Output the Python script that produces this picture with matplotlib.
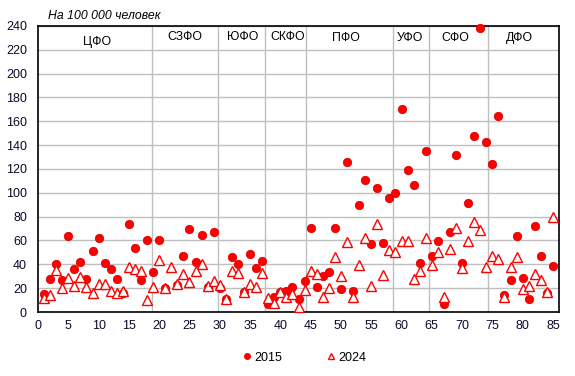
import numpy as np
import matplotlib
matplotlib.use("Agg")
import matplotlib.pyplot as plt
from matplotlib.lines import Line2D
from matplotlib import transforms

plt.rcParams['font.family'] = ['Liberation Sans', 'DejaVu Sans']

# номера регионов 1..85
regions = np.arange(1, 86)

# значения на 100 000 человек, 2015 г. (у региона 22 нет точки)
y2015 = [14.8, 28, 40.5, 27, 63.8, 36.4, 42.2, 28, 51.5, 62.1,
         41.1, 36.1, 28, 16.2, 74.1, 53.7, 27.1, 60.7, 33.6, 60.7,
         20.5, np.nan, 22.5, 47, 69.8, 42.2, 64.6, 20.7, 66.8, 20.3,
         10.9, 46.4, 40.3, 16.5, 48.3, 37, 43.1, 7, 12.8, 17,
         17.5, 21.2, 11.2, 26.3, 70.8, 21.2, 30.4, 33.8, 70.8, 19.6,
         126, 18, 90, 110.5, 57.1, 104, 58.2, 95.7, 100.1, 170,
         119.2, 106.8, 41.4, 135.5, 47, 59.8, 7, 67.4, 131.5, 41.4,
         91.7, 147.5, 238.3, 143, 124.3, 164.5, 14.3, 27.1, 63.8, 28.8,
         11.2, 72.2, 47, 15.7, 38.9]

# значения 2024 г.
y2024 = [12, 14.5, 35.2, 20.1, 28.8, 22.1, 29.6, 20.7, 15.7, 23.5,
         23.5, 17.6, 15.7, 17.4, 38, 36.3, 34.7, 10.1, 21.2, 43.9,
         20.4, 37.5, 23.5, 31.6, 25.5, 34.1, 40, 22.1, 26, 22.9,
         10.9, 34.7, 32.5, 17, 23.8, 21, 32.5, 11.5, 7.8, 16.7,
         12.8, 15.2, 4.5, 18.2, 34.2, 31.6, 12.5, 19.9, 46.4, 29.9,
         59, 12.8, 39.8, 61.8, 21.5, 73.6, 31, 52, 50.1, 59.6,
         59.6, 27.4, 34.7, 61.8, 39.4, 50.6, 12.8, 53.1, 70.8, 36.6,
         59.8, 75.8, 68.8, 38, 47, 44.7, 12.8, 37.5, 46.4, 19.3,
         22.1, 31.9, 26.9, 16.5, 79.5]

# федеральные округа: границы и подписи
district_names = ["ЦФО", "СЗФО", "ЮФО", "СКФО", "ПФО", "УФО", "СФО", "ДФО"]
district_label_x = [9.7, 24.2, 33.75, 41.2, 50.9, 61.4, 68.8, 79.5]
district_label_y = [0.945, 0.96, 0.962, 0.962, 0.958, 0.958, 0.958, 0.958]
district_bounds = [18.84, 29.71, 37.45, 44.2, 58.59, 64.46, 74.24]

fig = plt.figure(figsize=(5.75, 3.76), dpi=100)
ax = fig.add_axes([0.0661, 0.1702, 0.9061, 0.7607])

grid_c = '#BFBFBF'
ax.set_xlim(0, 86)
ax.set_ylim(0, 240)
ax.set_xticks(range(0, 86, 5))
ax.set_yticks(range(0, 241, 20))
ax.yaxis.grid(True, color=grid_c, lw=1.0)
ax.set_axisbelow(True)
for b in district_bounds:
    ax.axvline(b, color=grid_c, lw=1.0, zorder=0.5)

ax.tick_params(length=0, labelsize=9, colors='#0a0a2a')
ax.tick_params(axis='x', pad=6)
ax.tick_params(axis='y', pad=8)
for s in ax.spines.values():
    s.set_color('black')
    s.set_linewidth(1.2)

ax.plot(regions, y2015, linestyle='none', marker='o', markersize=6,
        color='#FF0000', markeredgecolor='#E00000', markeredgewidth=0.6,
        clip_on=False, zorder=3)
ax.plot(regions, y2024, linestyle='none', marker='^', markersize=7.5,
        markerfacecolor='white', markeredgecolor='#FF0000',
        markeredgewidth=1.0, clip_on=False, zorder=4)

trans = transforms.blended_transform_factory(ax.transData, ax.transAxes)
for name, x, y in zip(district_names, district_label_x, district_label_y):
    ax.text(x, y, name, transform=trans, ha='center', va='center',
            fontsize=8.8, color='black')

fig.text(0.0835, 0.958, "На 100 000 человек", style='italic',
         fontsize=8.8, ha='left', va='center', color='black')

handles = [
    Line2D([], [], linestyle='none', marker='o', markersize=4,
           color='#FF0000'),
    Line2D([], [], linestyle='none', marker='^', markersize=4.5,
           markerfacecolor='white', markeredgecolor='#FF0000',
           markeredgewidth=1.0),
]
fig.legend(handles, ["2015", "2024"], loc='center', ncol=2,
           bbox_to_anchor=(0.530, 0.049), frameon=False, fontsize=9,
           handlelength=0.6, handletextpad=0.3, columnspacing=3.6)

fig.savefig("out.png", dpi=100)
